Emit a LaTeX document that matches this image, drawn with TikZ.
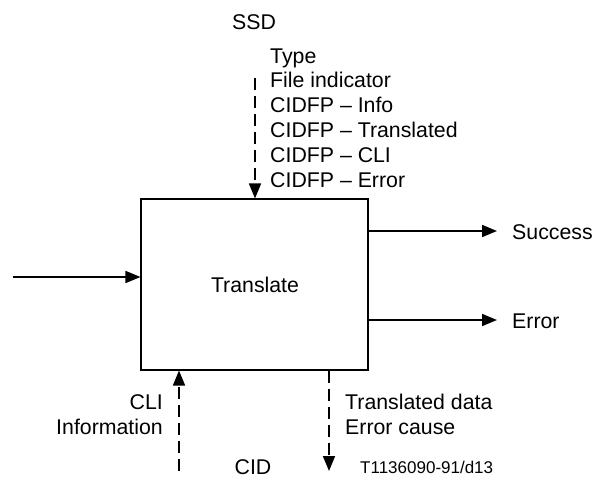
\documentclass[tikz,border=0pt]{standalone}
\usepackage{fontspec}
\setmainfont{Liberation Sans}
\usetikzlibrary{arrows.meta}
\begin{document}
\begin{tikzpicture}[x=1pt,y=-1pt,
  txt/.style={inner sep=0pt,font=\fontsize{21.3}{25}\selectfont},
  small/.style={inner sep=0pt,font=\fontsize{17}{20}\selectfont},
  flow/.style={line width=1.7pt,-{Triangle[length=15pt,width=12pt]}},
  dflow/.style={flow,dash pattern=on 12pt off 6pt}]
\useasboundingbox (0,0) rectangle (593,478);
\node[draw,line width=1.1pt,minimum width=227pt,minimum height=171pt,inner sep=0pt] (box) at (254.5,284.5) {};
\node[txt] (lbl) at (255,285) {Translate};
% top inputs
\node[txt,anchor=base west] (ssd) at (232,29.5) {SSD};
\node[txt,anchor=base west] (t1) at (270,63.5) {Type};
\node[txt,anchor=base west] (t2) at (270,87.5) {File indicator};
\node[txt,anchor=base west] (t3) at (270,112.5) {CIDFP -- Info};
\node[txt,anchor=base west] (t4) at (270,137.5) {CIDFP -- Translated};
\node[txt,anchor=base west] (t5) at (270,162.5) {CIDFP -- CLI};
\node[txt,anchor=base west] (t6) at (270,187.5) {CIDFP -- Error};
\coordinate (topstart) at (255,78);
\draw[dflow] (topstart) -- (topstart |- box.north);
% left input
\coordinate (leftstart) at (13,277);
\draw[flow] (leftstart) -- (leftstart -| box.west);
% outputs
\node[txt,anchor=west] (succ) at (512,232) {Success};
\node[txt,anchor=west] (err) at (512,321) {Error};
\draw[flow] (box.east |- 0,231) -- (497,231) coordinate (succend);
\draw[flow] (box.east |- 0,320) -- (497,320) coordinate (errend);
% bottom left
\coordinate (blstart) at (179,471);
\draw[dflow] (blstart) -- (blstart |- box.south);
\node[txt,anchor=base east] (cli) at (163,409.5) {CLI};
\node[txt,anchor=base east] (info) at (163,434.5) {Information};
% bottom right
\coordinate (brtop) at (329,370);
\coordinate (brend) at (329,471);
\draw[dflow] (box.south -| brtop) -- (brend);
\node[txt,anchor=base west] (td) at (345,409.5) {Translated data};
\node[txt,anchor=base west] (ec) at (345,434.5) {Error cause};
\node[txt] (cid) at (253,467) {CID};
\node[small,anchor=west] (ref) at (360,467) {T1136090-91/d13};
\end{tikzpicture}
\end{document}
